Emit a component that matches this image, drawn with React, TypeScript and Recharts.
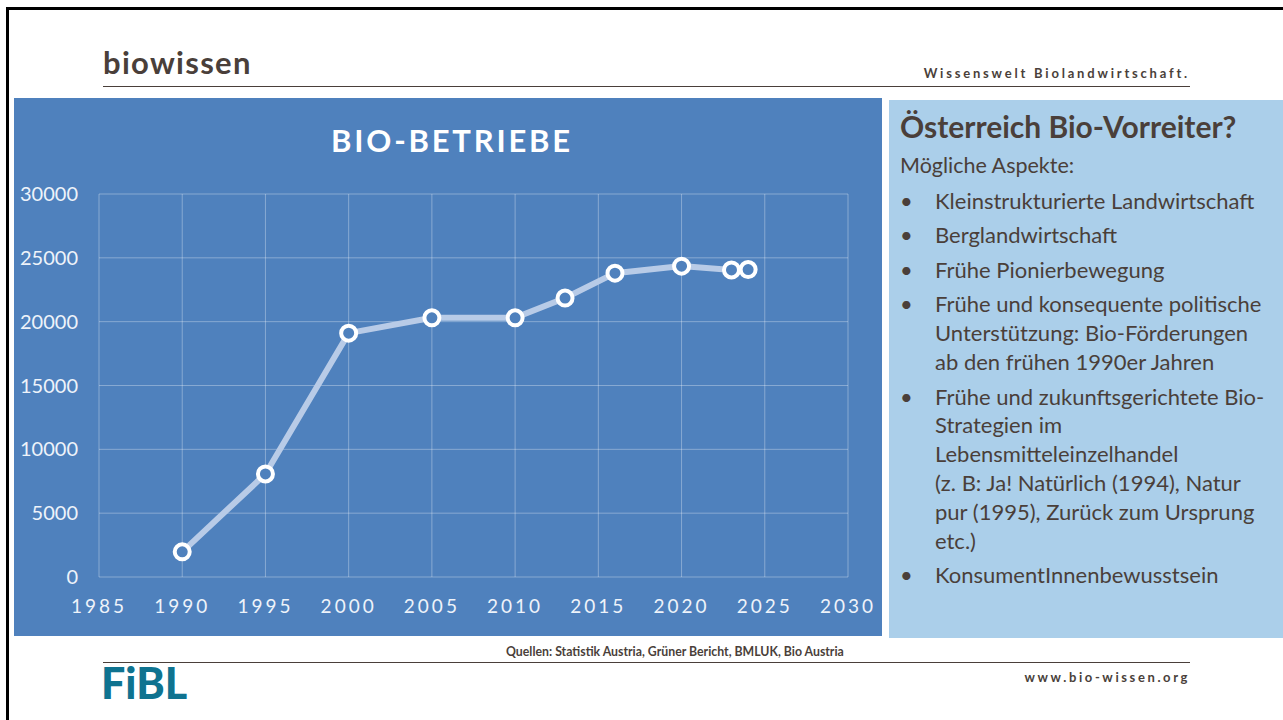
import React from 'react';
import { LineChart, Line, XAxis, YAxis, CartesianGrid } from 'recharts';

const years = [1990, 1995, 2000, 2005, 2010, 2013, 2016, 2020, 2023, 2024];
const betriebe = [1970, 8070, 19100, 20300, 20300, 21850, 23800, 24350, 24050, 24080];
const xTicks = [1985, 1990, 1995, 2000, 2005, 2010, 2015, 2020, 2025, 2030];
const yTicks = [0, 5000, 10000, 15000, 20000, 25000, 30000];

const aspekte = [
    ['Kleinstrukturierte Landwirtschaft'],
    ['Berglandwirtschaft'],
    ['Frühe Pionierbewegung'],
    ['Frühe und konsequente politische', 'Unterstützung: Bio-Förderungen', 'ab den frühen 1990er Jahren'],
    [
        'Frühe und zukunftsgerichtete Bio-',
        'Strategien im',
        'Lebensmitteleinzelhandel',
        '(z. B: Ja! Natürlich (1994), Natur',
        'pur (1995), Zurück zum Ursprung',
        'etc.)',
    ],
    ['KonsumentInnenbewusstsein'],
];

const data = years.map((year, i) => ({ year, value: betriebe[i] }));

const FONT = 'Lato, "Open Sans", sans-serif';
const TEXT = '#4a3f3a';
const BLUE = '#4f81bd';

export default function App() {
    return (
        <div
            style={{
                position: 'absolute',
                left: 0,
                top: 0,
                width: 1283,
                height: 720,
                background: '#fff',
                fontFamily: FONT,
                overflow: 'hidden',
            }}
        >
            {/* page frame */}
            <div
                style={{
                    position: 'absolute',
                    left: 6,
                    top: 7,
                    width: 1290,
                    height: 730,
                    borderLeft: '3px solid #000',
                    borderTop: '3px solid #000',
                }}
            />

            {/* header */}
            <div
                style={{
                    position: 'absolute',
                    left: 103,
                    top: 43,
                    fontSize: 31,
                    fontWeight: 700,
                    color: TEXT,
                    letterSpacing: 1.3,
                }}
            >
                biowissen
            </div>
            <div
                style={{
                    position: 'absolute',
                    right: 1283 - 1190,
                    top: 65,
                    fontSize: 13,
                    fontWeight: 700,
                    color: TEXT,
                    letterSpacing: 2.8,
                }}
            >
                Wissenswelt Biolandwirtschaft.
            </div>
            <div style={{ position: 'absolute', left: 103, top: 86, width: 1087, height: 1, background: TEXT }} />

            {/* chart panel */}
            <div style={{ position: 'absolute', left: 14, top: 98, width: 868, height: 538, background: BLUE }}>
                <div
                    style={{
                        position: 'absolute',
                        left: 0,
                        width: 876,
                        top: 121 - 98,
                        textAlign: 'center',
                        color: '#fff',
                        fontSize: 31,
                        fontWeight: 700,
                        letterSpacing: 2.8,
                    }}
                >
                    BIO-BETRIEBE
                </div>
                <LineChart width={868} height={538} data={data} margin={{ top: 96, right: 34, left: 15, bottom: 0 }}>
                    <CartesianGrid stroke="rgba(255,255,255,0.32)" strokeWidth={1} />
                    <XAxis
                        dataKey="year"
                        type="number"
                        domain={[1985, 2030]}
                        ticks={xTicks}
                        axisLine={false}
                        tickLine={false}
                        tickSize={0}
                        tickMargin={23}
                        height={59}
                        tick={{ fill: '#eef3fa', fontSize: 19, letterSpacing: 3, fontFamily: FONT }}
                    />
                    <YAxis
                        type="number"
                        domain={[0, 30000]}
                        ticks={yTicks}
                        axisLine={false}
                        tickLine={false}
                        tickSize={0}
                        tickMargin={21}
                        width={70}
                        tick={{ fill: '#eef3fa', fontSize: 20, fontFamily: FONT }}
                    />
                    <Line
                        type="linear"
                        dataKey="value"
                        stroke="#b8cbe7"
                        strokeWidth={6}
                        dot={{ r: 7.5, fill: BLUE, stroke: '#fff', strokeWidth: 4 }}
                        isAnimationActive={false}
                    />
                </LineChart>
            </div>

            {/* right panel */}
            <div
                style={{
                    position: 'absolute',
                    left: 889,
                    top: 100,
                    width: 400,
                    height: 538,
                    background: '#abcfea',
                    color: TEXT,
                }}
            >
                <div style={{ position: 'absolute', left: 11, top: 8, fontSize: 30, fontWeight: 700, whiteSpace: 'nowrap' }}>
                    Österreich Bio-Vorreiter?
                </div>
                <div style={{ position: 'absolute', left: 11, top: 52, fontSize: 21.5 }}>Mögliche Aspekte:</div>
                <div style={{ position: 'absolute', left: 11, top: 87, width: 390 }}>
                    {aspekte.map((lines, i) => (
                        <div key={i} style={{ display: 'flex', marginBottom: 5.7, fontSize: 22, lineHeight: '28.8px' }}>
                            <div style={{ width: 35, paddingLeft: 0 }}>•</div>
                            <div style={{ whiteSpace: 'nowrap' }}>
                                {lines.map((l, j) => (
                                    <div key={j}>{l}</div>
                                ))}
                            </div>
                        </div>
                    ))}
                </div>
            </div>

            {/* footer */}
            <div
                style={{
                    position: 'absolute',
                    left: 506,
                    top: 644,
                    fontSize: 12.3,
                    fontWeight: 700,
                    color: TEXT,
                    whiteSpace: 'nowrap',
                }}
            >
                Quellen: Statistik Austria, Grüner Bericht, BMLUK, Bio Austria
            </div>
            <div style={{ position: 'absolute', left: 103, top: 662, width: 1087, height: 1, background: TEXT }} />
            <div
                style={{
                    position: 'absolute',
                    left: 101,
                    top: 657,
                    fontSize: 43,
                    fontWeight: 900,
                    color: '#0f7390',
                    letterSpacing: 0,
                }}
            >
                FiBL
            </div>
            <div
                style={{
                    position: 'absolute',
                    right: 1283 - 1190,
                    top: 669,
                    fontSize: 13,
                    fontWeight: 700,
                    color: TEXT,
                    letterSpacing: 2.6,
                }}
            >
                www.bio-wissen.org
            </div>
        </div>
    );
}
